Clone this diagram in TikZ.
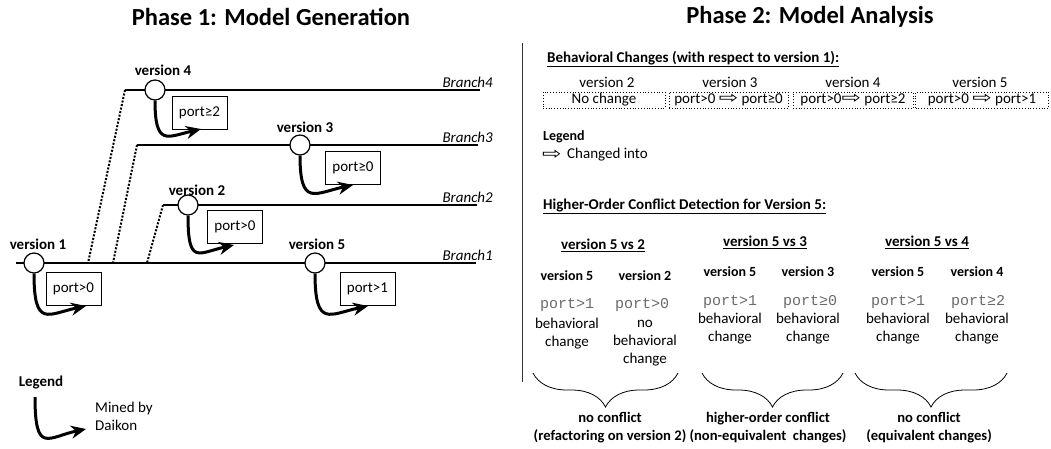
\documentclass[tikz,border=0pt]{standalone}
\usepackage{fontspec}
\usepackage{graphicx}
\setmainfont{Carlito}
\setmonofont{Liberation Mono}
\newfontfamily\dejavu{DejaVu Sans}
\usetikzlibrary{arrows.meta,decorations.pathreplacing}
\definecolor{monogray}{HTML}{6A6A6A}
\newcommand\chg{\scalebox{1.45}[1.05]{\dejavu\fontsize{16}{16}\selectfont ⇨}}
\begin{document}
\begin{tikzpicture}[x=1pt,y=-1pt,
  title/.style={font=\fontsize{24.5}{28}\selectfont\bfseries, inner sep=0},
  txt/.style={font=\fontsize{15}{18}\selectfont, inner sep=0, align=center},
  btxt/.style={font=\fontsize{15}{18}\selectfont\bfseries, inner sep=0, align=center},
  rtxt/.style={font=\fontsize{14.6}{18}\selectfont\bfseries, inner sep=0, align=center},
  stxt/.style={font=\fontsize{14}{17}\selectfont\bfseries, inner sep=0, anchor=west},
  htxt/.style={font=\fontsize{15}{18}\selectfont\bfseries, inner sep=0, anchor=west},
  itxt/.style={font=\fontsize{15}{18}\selectfont\itshape, inner sep=0, anchor=base east},
  mono/.style={font=\fontsize{15}{18}\selectfont\ttfamily, text=monogray, inner sep=0},
  branch/.style={line width=2pt},
  link/.style={line width=2pt, dash pattern=on 2pt off 1.6pt},
  ver/.style={circle, draw, line width=1.2pt, fill=white, minimum size=20pt, inner sep=0},
  portbox/.style={draw, line width=0.9pt, minimum width=55pt, minimum height=33pt, font=\fontsize{15}{18}\selectfont, inner sep=0},
  mined/.style={line width=3pt, -{Stealth[length=15pt,width=13pt]}},
  chbox/.style={draw, dotted, line width=0.8pt, minimum height=16pt, inner sep=0, font=\fontsize{15}{18}\selectfont},
  brc/.style={decorate, decoration={brace, amplitude=34pt}, line width=0.8pt},
]
\useasboundingbox (0,0) rectangle (1051,448);

% titles
\node[title] (t1) at (271,17) {Phase 1: Model Generation};
\node[title] (t2) at (810,17) {Phase 2: Model Analysis};

% ---------- Phase 1 ----------
\coordinate (b1s) at (16,263);  \coordinate (b1e) at (476,263);
\coordinate (b2s) at (163,205); \coordinate (b2e) at (477,205);
\coordinate (b3s) at (137,145); \coordinate (b3e) at (478,145);
\coordinate (b4s) at (125,90);  \coordinate (b4e) at (480,90);
\coordinate (j2) at (147,263);
\coordinate (j3) at (113,263);
\coordinate (j4) at (88,263);

\draw[link] (b4s) -- (j4);
\draw[link] (b3s) -- (j3);
\draw[link] (b2s) -- (j2);
\draw[branch] (b1s) -- (b1e);
\draw[branch] (b2s) -- (b2e);
\draw[branch] (b3s) -- (b3e);
\draw[branch] (b4s) -- (b4e);

\node[itxt] (br4) at (493,87) {Branch4};
\node[itxt] (br3) at (493,142) {Branch3};
\node[itxt] (br2) at (493,202) {Branch2};
\node[itxt] (br1) at (493,260) {Branch1};

\node[ver] (v1) at (34,263) {};
\node[ver] (v2) at (188,205) {};
\node[ver] (v3) at (300,145) {};
\node[ver] (v4) at (155,90) {};
\node[ver] (v5) at (315,263) {};

\node[btxt] (l1) at (38,244) {version 1};
\node[btxt] (l2) at (197,190) {version 2};
\node[btxt] (l3) at (305,127) {version 3};
\node[btxt] (l4) at (163,70) {version 4};
\node[btxt] (l5) at (317,244) {version 5};

\node[portbox] (p1) at (73.5,289) {port>0};
\node[portbox] (p2) at (235,226.5) {port>0};
\node[portbox] (p3) at (353,167.5) {port≥0};
\node[portbox] (p4) at (199.5,112.5) {port≥2};
\node[portbox] (p5) at (367.5,288.5) {port>1};

\coordinate (a1) at (86,306);
\coordinate (a2) at (234,245);
\coordinate (a3) at (353,185);
\coordinate (a4) at (201,129);
\coordinate (a5) at (368,306);
\draw[mined] (v1.south) .. controls +(0,55) and +(-38,8) .. (a1);
\draw[mined] (v2.south) .. controls +(0,50) and +(-36,8) .. (a2);
\draw[mined] (v3.south) .. controls +(0,52) and +(-38,8) .. (a3);
\draw[mined] (v4.south) .. controls +(0,46) and +(-34,8) .. (a4);
\draw[mined] (v5.south) .. controls +(0,55) and +(-38,8) .. (a5);

% legend
\node[btxt] (leg1) at (41,382) {Legend};
\coordinate (ls) at (35,397);
\coordinate (le) at (86,429);
\draw[mined] (ls) .. controls +(0,58) and +(-38,8) .. (le);
\node[txt, align=left, anchor=west] (mined) at (95,416) {Mined by\\Daikon};

% ---------- separator ----------
\coordinate (s1) at (522,43);
\coordinate (s2) at (522,382);
\draw[line width=1pt, black!80] (s1) -- (s2);

% ---------- Phase 2 ----------
\node[htxt] (h1) at (547,59) {\underline{Behavioral Changes (with respect to version 1):}};

\node[txt] (cv2) at (607,82) {version 2};
\node[txt] (cv3) at (730,82) {version 3};
\node[txt] (cv4) at (853,82) {version 4};
\node[txt] (cv5) at (980,82) {version 5};

\node[chbox, minimum width=122pt] (c2) at (604,100) {No change};
\node[chbox, minimum width=119pt] (c3) at (728.5,100) {port>0 \chg{} port≥0};
\node[chbox, minimum width=120pt] (c4) at (853,100) {port>0\chg{} port≥2};
\node[chbox, minimum width=133pt] (c5) at (982,100) {port>0 \chg{} port>1};

\node[stxt] (leg2) at (543,137) {Legend};
\node[inner sep=0, anchor=west] (chg) at (542,155) {\chg};
\node[txt, anchor=west] (chgt) at (567,155) {Changed into};

\node[htxt] (h2) at (543,206) {\underline{Higher-Order Conflict Detection for Version 5:}};

\node[htxt, anchor=center] (vs2) at (603,245) {\underline{version 5 vs 2}};
\node[htxt, anchor=center] (vs3) at (765,242) {\underline{version 5 vs 3}};
\node[htxt, anchor=center] (vs4) at (927,242) {\underline{version 5 vs 4}};

\node[stxt, anchor=center] (k1) at (567,276) {version 5};
\node[stxt, anchor=center] (k2) at (645,276) {version 2};
\node[stxt, anchor=center] (k3) at (730,272) {version 5};
\node[stxt, anchor=center] (k4) at (808,272) {version 3};
\node[stxt, anchor=center] (k5) at (898,272) {version 5};
\node[stxt, anchor=center] (k6) at (977,272) {version 4};

\node[mono] (m1) at (567,305) {port>1};
\node[mono] (m2) at (642,305) {port>0};
\node[mono] (m3) at (730,302) {port>1};
\node[mono] (m4) at (810,302) {port≥0};
\node[mono] (m5) at (898,302) {port>1};
\node[mono] (m6) at (978,302) {port≥2};

\node[txt] (d1) at (567,334) {behavioral\\change};
\node[txt] (d2) at (645,343) {no\\behavioral\\change};
\node[txt] (d3) at (730,329) {behavioral\\change};
\node[txt] (d4) at (808,329) {behavioral\\change};
\node[txt] (d5) at (898,329) {behavioral\\change};
\node[txt] (d6) at (977,329) {behavioral\\change};

\coordinate (e1a) at (678,373); \coordinate (e1b) at (533,373);
\coordinate (e2a) at (843,373); \coordinate (e2b) at (702,373);
\coordinate (e3a) at (1007,373); \coordinate (e3b) at (855,373);
\draw[brc] (e1a) -- (e1b);
\draw[brc] (e2a) -- (e2b);
\draw[brc] (e3a) -- (e3b);

\node[rtxt] (r1) at (610,428) {no conflict\\(refactoring on version 2)};
\node[rtxt] (r2) at (768,428) {higher-order conflict\\(non-equivalent\ \ changes)};
\node[rtxt] (r3) at (929,428) {no conflict\\(equivalent changes)};
\end{tikzpicture}
\end{document}
